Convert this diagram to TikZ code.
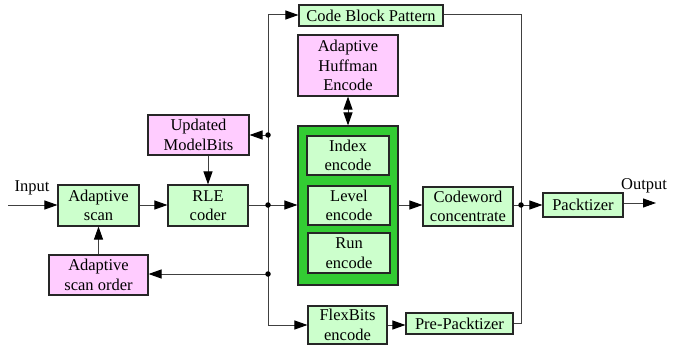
\documentclass[tikz,border=0pt]{standalone}
\usepackage{fontspec}
\setmainfont{Liberation Serif}
\usetikzlibrary{arrows.meta}
\definecolor{lgreen}{HTML}{CCFFCC}
\definecolor{lpink}{HTML}{FFCCFF}
\definecolor{dgreen}{HTML}{33CC33}
\definecolor{linec}{HTML}{404040}
\begin{document}
\begin{tikzpicture}[x=1pt,y=-1pt,
  box/.style={draw=black!85, line width=1.1pt, inner sep=0pt, align=center,
    font=\fontsize{16.5}{19.5}\selectfont},
  gbox/.style={box, fill=lgreen},
  pbox/.style={box, fill=lpink},
  conn/.style={draw=linec, line width=1pt},
  arr/.style={conn, -{Triangle[length=13pt,width=9pt,fill=black,color=black]}},
  darr/.style={conn, {Triangle[length=13pt,width=9pt,fill=black,color=black]}-{Triangle[length=13pt,width=9pt,fill=black,color=black]}},
  dot/.style={circle, fill=black, inner sep=0pt, minimum size=5.5pt},
  lbl/.style={inner sep=0pt, font=\fontsize{16.5}{19.5}\selectfont}]
\useasboundingbox (0,0) rectangle (674,345);
\fill[white] (0,0) rectangle (674,345);
% nodes
\node[gbox, minimum width=81pt, minimum height=41pt] (scan) at (98.5,205.5) {Adaptive\\scan};
\node[gbox, minimum width=80pt, minimum height=41pt] (rle) at (208,205.5) {RLE\\coder};
\node[pbox, minimum width=101pt, minimum height=40pt] (upd) at (198.5,135) {Updated\\ModelBits};
\node[pbox, minimum width=99pt, minimum height=40pt] (order) at (98.5,275) {Adaptive\\scan order};
\node[gbox, minimum width=144pt, minimum height=21pt] (cbp) at (371,15.5) {Code Block Pattern};
\node[pbox, minimum width=100pt, minimum height=61pt] (huff) at (348,65.5) {Adaptive\\Huffman\\Encode};
\node[box, fill=dgreen, minimum width=100pt, minimum height=159pt] (grp) at (348,205.5) {};
\node[gbox, minimum width=82pt, minimum height=39pt] (idx) at (348,155.5) {Index\\encode};
\node[gbox, minimum width=82pt, minimum height=39pt] (lvl) at (349,205.5) {Level\\encode};
\node[gbox, minimum width=82pt, minimum height=40pt] (run) at (349,253) {Run\\encode};
\node[gbox, minimum width=90pt, minimum height=39pt] (cw) at (468,206.5) {Codeword\\concentrate};
\node[gbox, minimum width=80pt, minimum height=24pt] (pk) at (583,205) {Packtizer};
\node[gbox, minimum width=79pt, minimum height=38pt] (flex) at (347.5,325) {FlexBits\\encode};
\node[gbox, minimum width=107pt, minimum height=21pt] (pre) at (459.5,323.5) {Pre-Packtizer};
\node[lbl] (inlbl) at (32,188) {Input};
\node[lbl] (outlbl) at (644,186) {Output};
% coordinates
\coordinate (in) at (8,205);
\coordinate (out) at (656,203);
\coordinate (btop) at (268,15);
\coordinate (bupd) at (268,135);
\coordinate (bmid) at (268,205);
\coordinate (bord) at (268,274);
\coordinate (bbot) at (268,325);
\coordinate (rtop) at (521,15);
\coordinate (rmid) at (521,205);
\coordinate (rbot) at (521,323.5);
% connectors
\draw[conn] (btop) -- (bbot);
\draw[arr] (in) -- (scan.west |- in);
\draw[arr] (scan.east |- in) -- (rle.west |- in);
\draw[arr] (upd.south -| rle) -- (rle.north);
\draw[conn] (rle.east |- bmid) -- (bmid);
\draw[arr] (bmid) -- (grp.west |- bmid);
\draw[arr] (bupd) -- (upd.east |- bupd);
\draw[arr] (bord) -- (order.east |- bord);
\draw[arr] (order.north -| scan) -- (scan.south);
\draw[arr] (btop) -- (cbp.west |- btop);
\draw[arr] (bbot) -- (flex.west |- bbot);
\draw[arr] (flex.east |- bbot) -- (pre.west |- bbot);
\draw[darr] (huff.south) -- (grp.north);
\draw[arr] (grp.east |- bmid) -- (cw.west |- bmid);
\draw[conn] (cbp.east |- btop) -- (rtop) -- (rbot) -- (pre.east |- rbot);
\draw[conn] (cw.east |- rmid) -- (rmid);
\draw[arr] (rmid) -- (pk.west |- rmid);
\draw[arr] (pk.east |- out) -- (out);
% dots
\node[dot] at (bupd) {};
\node[dot] at (bmid) {};
\node[dot] at (bord) {};
\node[dot] at (rmid) {};
\end{tikzpicture}
\end{document}
